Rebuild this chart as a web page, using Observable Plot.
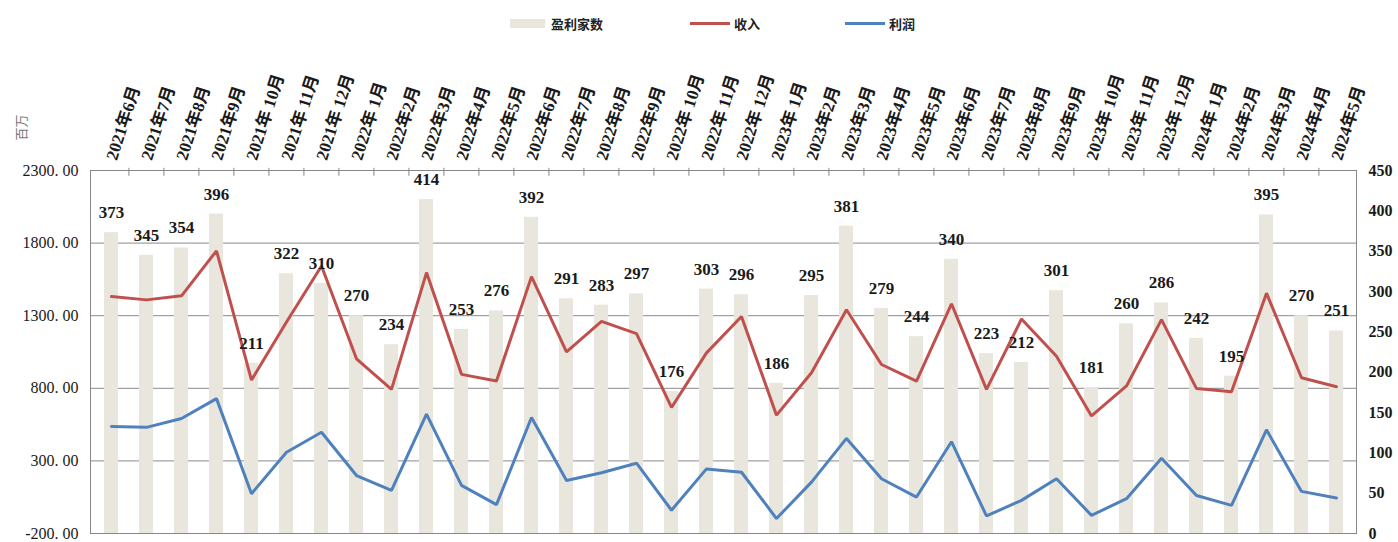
<!DOCTYPE html>
<html><head><meta charset="utf-8">
<script src="https://cdn.jsdelivr.net/npm/d3@7"></script>
<script src="https://cdn.jsdelivr.net/npm/@observablehq/plot@0.6"></script>
<style>
body{margin:0;background:#fff;font-family:"Liberation Serif","Noto Sans CJK SC",serif;}
#wrap{position:relative;width:1398px;height:542px;overflow:hidden;}
#legend{position:relative;width:1398px;height:38px;}
.item{position:absolute;top:14px;height:18px;display:flex;align-items:center;font-size:13px;font-weight:bold;color:#222;}
.sw{display:inline-block;margin-right:6px;}
#unit{position:absolute;left:7px;top:118px;transform:rotate(-90deg);transform-origin:center;font-size:13px;color:#777;font-family:"Noto Sans CJK SC",sans-serif;}
</style></head><body>
<div id="wrap"><div id="legend"></div><div id="unit">百万</div><div id="chart"></div></div>
<script>
const months = ["2021年6月","2021年7月","2021年8月","2021年9月","2021年 10月","2021年 11月","2021年 12月",
"2022年 1月","2022年2月","2022年3月","2022年4月","2022年5月","2022年6月","2022年7月","2022年8月","2022年9月","2022年 10月","2022年 11月","2022年 12月",
"2023年 1月","2023年2月","2023年3月","2023年4月","2023年5月","2023年6月","2023年7月","2023年8月","2023年9月","2023年 10月","2023年 11月","2023年 12月",
"2024年 1月","2024年2月","2024年3月","2024年4月","2024年5月"];
const counts = [373,345,354,396,211,322,310,270,234,414,253,276,392,291,283,297,176,303,296,186,295,381,279,244,340,223,212,301,181,260,286,242,195,395,270,251];
const revenue = [1432,1409,1437,1747,857,1257,1642,1003,793,1597,896,850,1569,1051,1261,1177,668,1044,1295,615,907,1341,964,850,1382,793,1277,1021,610,816,1273,798,777,1455,873,811];
const profit = [537,531,592,729,74,360,497,199,97,622,131,-1,599,165,218,284,-40,245,222,-97,154,455,177,51,432,-79,28,177,-75,40,318,62,-6,514,90,45];
const leftTicks = [-200,300,800,1300,1800,2300];
const gridValues = [300,800,1300,1800];
const rightTicks = [0,50,100,150,200,250,300,350,400,450];
const seriesNames = ["盈利家数","收入","利润"];
const colors = {bar:"#e9e7dd", revenue:"#c0504d", profit:"#4f81bd"};

const L0 = -200, L1 = 2300, R0 = 0, R1 = 450;
const toLeft = c => L0 + (c - R0) * (L1 - L0) / (R1 - R0);
const fromLeft = v => R0 + (v - L0) * (R1 - R0) / (L1 - L0);

const data = months.map((m,i)=>({month:m, count:counts[i], revenue:revenue[i], profit:profit[i]}));

// legend
const legend = document.getElementById("legend");
const legendItems = [
  {name:seriesNames[0], left:510, sw:`<span class="sw" style="width:35px;height:9px;background:${colors.bar}"></span>`},
  {name:seriesNames[1], left:690, sw:`<span class="sw" style="width:40px;height:3px;background:${colors.revenue};margin-right:4px"></span>`},
  {name:seriesNames[2], left:845, sw:`<span class="sw" style="width:40px;height:3px;background:${colors.profit};margin-right:4px"></span>`}
];
for (const it of legendItems) {
  const d = document.createElement("div");
  d.className = "item"; d.style.left = it.left + "px";
  d.innerHTML = it.sw + it.name;
  legend.appendChild(d);
}

const W = 1398, H = 504, mt = 132, mb = 9, ml = 90, mr = 42;
const step = (W - ml - mr) / months.length;

const chart = Plot.plot({
  width: W, height: H, marginTop: mt, marginBottom: mb, marginLeft: ml, marginRight: mr,
  style: {fontFamily: '"Liberation Serif","Noto Sans CJK SC",serif', background: "#fff", color: "#1a1a1a", overflow: "visible"},
  x: {type: "band", domain: months, paddingInner: 0.6, paddingOuter: 0.3, axis: null},
  y: {domain: [L0, L1], axis: null},
  marks: [
    Plot.ruleY(gridValues, {stroke: "#8a8a8a", strokeWidth: 1}),
    Plot.barY(data, {x: "month", y1: () => L0, y2: d => toLeft(d.count), fill: colors.bar}),
    Plot.frame({stroke: "#888", strokeWidth: 1}),
    Plot.ruleX(months.slice(1), {x: d => d, dx: -step / 2, y1: () => L1 + 15, y2: () => L1 - 40, stroke: "#888", strokeWidth: 1}),
    Plot.lineY(data, {x: "month", y: "revenue", stroke: colors.revenue, strokeWidth: 3, strokeLinejoin: "miter"}),
    Plot.lineY(data, {x: "month", y: "profit", stroke: colors.profit, strokeWidth: 3, strokeLinejoin: "miter"}),
    Plot.text(data, {x: "month", y: d => toLeft(d.count), dy: -20, text: d => String(d.count), fontSize: 17, fontWeight: "bold", fill: "#1a1a1a"}),
    Plot.axisY(leftTicks, {anchor: "left", label: null, tickSize: 0, tickPadding: 12, fontSize: 16, tickFormat: d => d.toFixed(2).replace(".", ". "), fill: "#1a1a1a"}),
    Plot.axisY(rightTicks.map(toLeft), {anchor: "right", label: null, tickSize: 0, tickPadding: 12, fontSize: 16, fontWeight: "bold", tickFormat: d => String(Math.round(fromLeft(d))), fill: "#1a1a1a"}),
    Plot.axisX({anchor: "top", label: null, tickSize: 0, tickPadding: 11, tickRotate: -72, fontSize: 17, fontWeight: "bold", fill: "#1a1a1a"})
  ]
});
document.getElementById("chart").appendChild(chart);
</script>
</body></html>
